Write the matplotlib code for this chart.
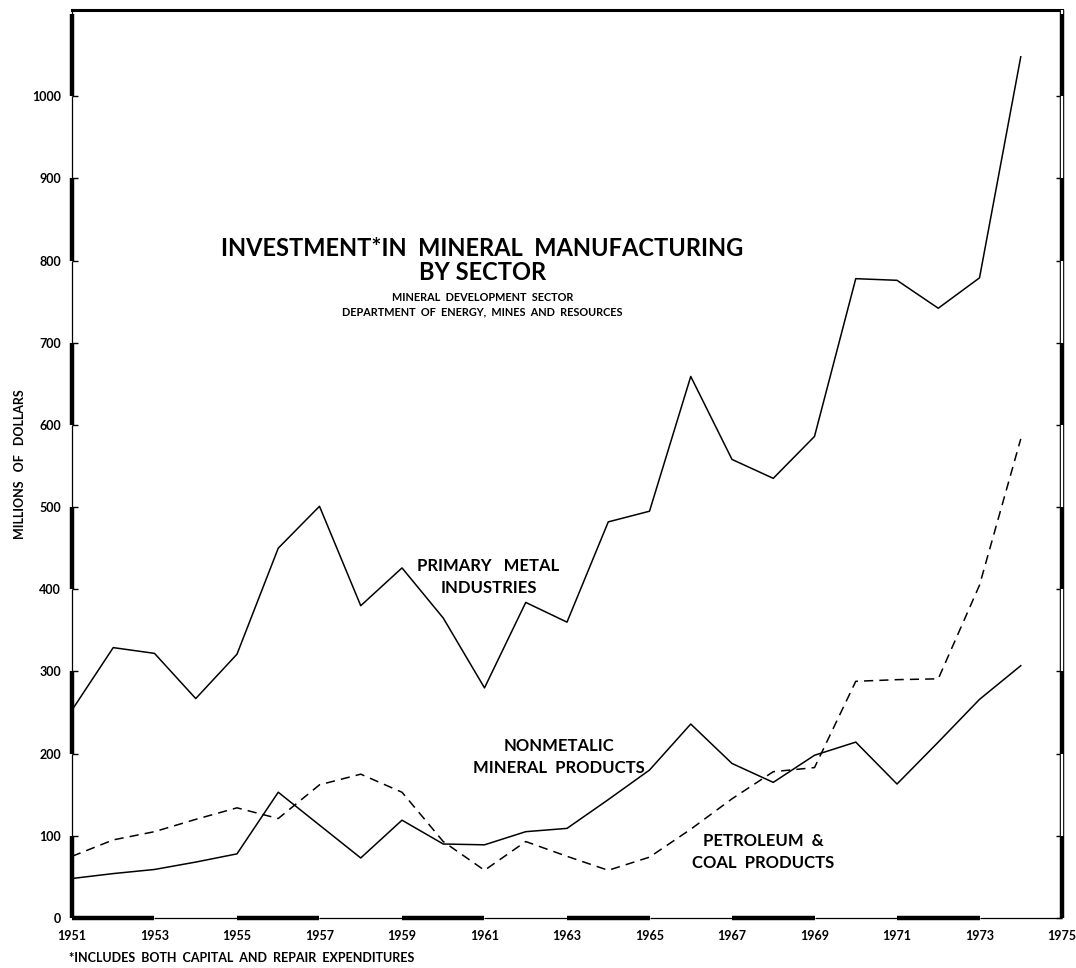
import matplotlib
matplotlib.use("Agg")
import matplotlib.pyplot as plt

plt.rcParams['font.family'] = ['Lato', 'DejaVu Sans']

years = list(range(1951, 1975))
primary_metal = [253, 329, 322, 267, 321, 450, 501, 380, 426, 365, 280, 384, 360,
                 482, 495, 659, 558, 535, 586, 778, 776, 742, 779, 1048]
petroleum_coal = [75, 95, 105, 120, 134, 121, 162, 175, 153, 93, 58, 93, 75,
                  58, 74, 108, 145, 178, 183, 288, 290, 291, 405, 583]
nonmetallic = [48, 54, 59, 68, 78, 153, 113, 73, 119, 90, 89, 105, 109,
               144, 180, 236, 188, 165, 198, 214, 163, 214, 266, 307]

x_ticks = list(range(1951, 1976, 2))
y_ticks = list(range(0, 1001, 100))
x_min, x_max = 1951, 1975
y_max = 1105


def draw_scale_bar(ax, fixed, start, stop, step, vertical, boxed=False):
    # alternating black / open segments like the old drafting frame
    k = 0
    pos = start
    while pos < stop:
        end = min(pos + step, stop)
        xs, ys = ([fixed, fixed], [pos, end]) if vertical else ([pos, end], [fixed, fixed])
        if k % 2 == 0:
            ax.plot(xs, ys, color='black', lw=3.2, solid_capstyle='butt',
                    clip_on=False, zorder=5)
        elif boxed:
            ax.plot(xs, ys, color='black', lw=3.2, solid_capstyle='butt',
                    clip_on=False, zorder=5)
            ax.plot(xs, ys, color='white', lw=1.6, solid_capstyle='butt',
                    clip_on=False, zorder=6)
        else:
            ax.plot(xs, ys, color='black', lw=0.9, solid_capstyle='butt',
                    clip_on=False, zorder=5)
        pos = end
        k += 1


fig = plt.figure(figsize=(10.76, 9.68), dpi=100)
ax = fig.add_axes([0.0669, 0.0517, 0.9201, 0.938])

ax.plot(years, primary_metal, color='black', lw=1.1)
ax.plot(years, nonmetallic, color='black', lw=1.1)
ax.plot(years, petroleum_coal, color='black', lw=1.1, linestyle=(0, (6, 4)))

ax.set_xlim(x_min, x_max)
ax.set_ylim(0, y_max)
for s in ax.spines.values():
    s.set_visible(False)

draw_scale_bar(ax, x_min, 0, y_max, 100, True)
draw_scale_bar(ax, x_max, 0, y_max, 100, True, boxed=True)
draw_scale_bar(ax, 0, x_min, x_max, 2, False)
ax.plot([x_min, x_max], [y_max, y_max], color='black', lw=2.2, clip_on=False,
        solid_capstyle='projecting', zorder=5)

ax.set_xticks(x_ticks)
ax.set_xticklabels([str(v) for v in x_ticks], fontsize=9, fontweight='bold')
ax.set_yticks(y_ticks)
ax.set_yticklabels([str(v) for v in y_ticks], fontsize=9, fontweight='bold')
ax.yaxis.set_ticks_position('both')
ax.tick_params(axis='y', direction='in', length=4, width=1, pad=8)
ax.tick_params(axis='x', direction='in', length=0, pad=9)

ax.set_ylabel('MILLIONS   OF   DOLLARS', fontsize=9,
              fontweight='bold', labelpad=4)

ax.text(1960.95, 815, 'INVESTMENT*IN  MINERAL  MANUFACTURING', ha='center',
        va='center', fontsize=17, fontweight='bold')
ax.text(1960.95, 786, 'BY SECTOR', ha='center', va='center', fontsize=17,
        fontweight='bold')
ax.text(1960.95, 755, 'MINERAL  DEVELOPMENT  SECTOR', ha='center', va='center',
        fontsize=7.8, fontweight='bold')
ax.text(1960.95, 738, 'DEPARTMENT  OF  ENERGY,  MINES  AND  RESOURCES',
        ha='center', va='center', fontsize=7.8, fontweight='bold')

ax.text(1961.1, 415, 'PRIMARY   METAL\nINDUSTRIES', ha='center', va='center',
        fontsize=12, fontweight='bold', linespacing=1.5)
ax.text(1962.8, 196, 'NONMETALIC\nMINERAL  PRODUCTS', ha='center', va='center',
        fontsize=12, fontweight='bold', linespacing=1.5)
ax.text(1967.75, 80, 'PETROLEUM  &\nCOAL  PRODUCTS', ha='center', va='center',
        fontsize=12, fontweight='bold', linespacing=1.5)

fig.text(0.064, 0.004, '*INCLUDES  BOTH  CAPITAL  AND  REPAIR  EXPENDITURES',
         fontsize=9, fontweight='bold', ha='left', va='bottom')

fig.savefig('out.png', dpi=100, facecolor='white')
